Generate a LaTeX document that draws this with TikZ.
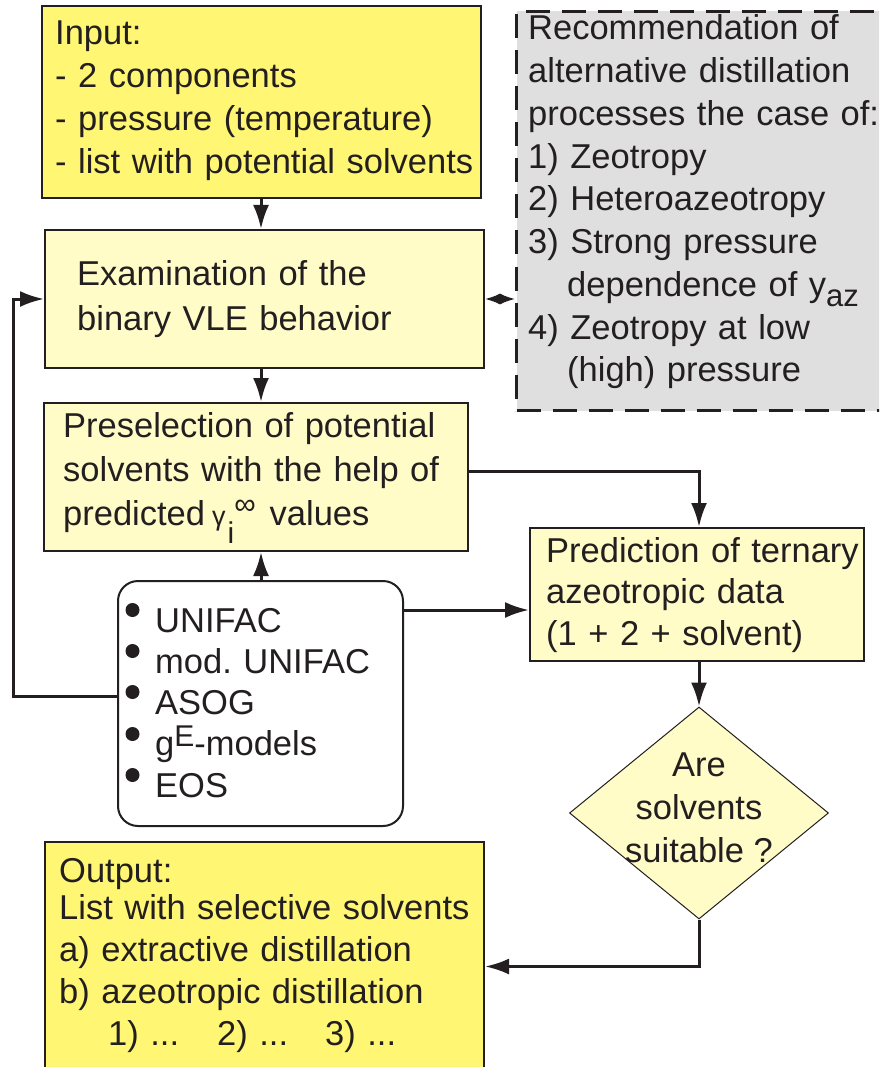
\documentclass[tikz,border=0pt]{standalone}
\usepackage{fontspec}
\setmainfont{Liberation Sans}
\usetikzlibrary{arrows.meta,shapes.geometric}
\definecolor{ybright}{HTML}{FFF773}
\definecolor{ylight}{HTML}{FFFCC8}
\definecolor{gbox}{HTML}{DFDFDF}
\definecolor{ink}{HTML}{231F20}
\frenchspacing
\tikzset{
  box/.style={draw=ink, line width=2pt, inner sep=0pt, anchor=north west},
  txt/.style={inner sep=0pt, anchor=base west, align=left, text=ink},
  conn/.style={draw=ink, line width=3pt, -{Latex[length=24pt,width=16pt]}},
}
\newcommand{\fs}[1]{\fontsize{34.5}{#1}\selectfont}
\begin{document}
\begin{tikzpicture}[x=1pt,y=-1pt]
\useasboundingbox (0,0) rectangle (879,1067);
\clip (0,0) rectangle (879,1067);
\fill[white] (0,0) rectangle (879,1067);
% boxes
\node[box, fill=ybright, minimum width=439pt, minimum height=192pt] (input) at (41,5) {};
\node[box, fill=ylight, minimum width=439pt, minimum height=138pt] (exam) at (44,229) {};
\node[box, fill=gbox, line width=3pt, dash pattern=on 24pt off 12pt, minimum width=375pt, minimum height=399pt] (gray) at (515,10) {};
\node[box, fill=ylight, minimum width=424pt, minimum height=148pt] (presel) at (43,402) {};
\node[box, fill=ylight, minimum width=334pt, minimum height=133pt] (pred) at (529,527) {};
\node[box, fill=white, rounded corners=20pt, minimum width=285pt, minimum height=245pt] (methods) at (117,580) {};
\node[diamond, draw=ink, fill=ylight, line width=1pt, inner sep=0pt, minimum width=259pt, minimum height=212pt] (dia) at (699,813) {};
\node[box, fill=ybright, minimum width=439pt, minimum height=260pt] (out) at (44,841) {};
% texts
\node[txt, text width=430pt, font=\fs{42.7}] (inputtext) at (55,45)
  {Input:\\- 2 components\\- pressure (temperature)\\- list with potential solvents};
\node[txt, text width=400pt, font=\fs{45}] (examtext) at (77,285)
  {Examination of the\\binary VLE behavior};
\node[txt, text width=360pt, font=\fs{42.75}] (graytext) at (528,40)
  {Recommendation of\\alternative distillation\\processes the case of:\\1) Zeotropy\\2) Heteroazeotropy\\3) Strong pressure\\\hspace*{39pt}dependence of y\raisebox{-10pt}{\fontsize{31}{31}\selectfont az}\\4) Zeotropy at low\\\hspace*{39pt}(high) pressure};
\node[txt, text width=400pt, font=\fs{44}] (preseltext) at (63,437)
  {Preselection of potential\\solvents with the help of\\predicted\hspace{7pt}{\fontsize{27}{27}\selectfont γ}\hspace{2pt}\raisebox{-18pt}{\fontsize{30}{30}\selectfont i}\raisebox{11pt}{\fontsize{30}{30}\selectfont ∞}\hspace{14pt}values};
\node[txt, text width=330pt, font=\fs{41.5}] (predtext) at (546,562)
  {Prediction of ternary\\azeotropic data\\(1 + 2 + solvent)};
\node[inner sep=0pt, anchor=base, align=center, text=ink, font=\fs{43}] (diatext) at (699,862)
  {Are\\solvents\\suitable ?};
\node[txt, text width=270pt, font=\fs{41.3}] (methtext) at (155,632)
  {UNIFAC\\mod. UNIFAC\\ASOG\\g\raisebox{9pt}{\fontsize{30}{30}\selectfont E}-models\\EOS};
\foreach \yy in {610,651,692,734,775} \fill[ink] (132.5pt,-\yy pt) circle[radius=7pt];
\node[txt, text width=430pt, font=\fs{42}] (outtext) at (59,882)
  {Output:\\[-5pt]List with selective solvents\\a) extractive distillation\\b) azeotropic distillation\\\hspace*{49pt}\makebox[109pt][l]{1) ...}\makebox[108pt][l]{2) ...}3) ...};
% connectors
\draw[conn] (input.south -| 261,0) -- (exam.north -| 261,0);
\draw[conn] (exam.south -| 261,0) -- (presel.north -| 261,0);
\draw[conn] (methods.north -| 261,0) -- (presel.south -| 261,0);
\draw[conn] ([yshift=6pt]presel.east) -| (pred.north -| 699,0);
\draw[conn] ([yshift=93.5pt]methods.east) -- ([yshift=93.5pt]methods.east -| pred.west);
\draw[conn] ([yshift=7.5pt]methods.west) -- ++(-104,0) |- (exam.west);
\draw[draw=ink, line width=2pt, {Latex[length=15pt,width=11pt]}-{Latex[length=15pt,width=11pt]}] (exam.east) -- (exam.east -| gray.west);
\draw[conn] (dia.north |- pred.south) -- (dia.north);
\draw[conn] (dia.south) |- ([yshift=5.5pt]out.east);
\end{tikzpicture}
\end{document}
